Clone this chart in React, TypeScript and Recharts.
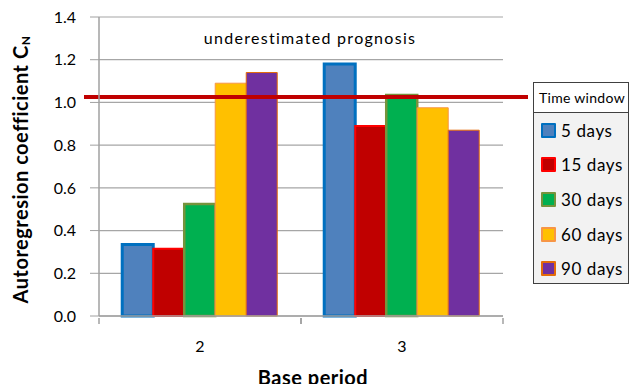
import React from 'react';
import {
  BarChart, Bar, XAxis, YAxis, CartesianGrid, ReferenceLine,
} from 'recharts';

const basePeriods = ['2', '3'];
const days5 = [0.335, 1.18];
const days15 = [0.315, 0.89];
const days30 = [0.525, 1.035];
const days60 = [1.09, 0.975];
const days90 = [1.14, 0.87];
const yTicks = [0, 0.2, 0.4, 0.6, 0.8, 1.0, 1.2, 1.4];
const threshold = 1.025;

const SERIES = [
  { key: 'd5', name: '5 days', values: days5, fill: '#4F81BD', stroke: '#0070C0', sw: 3 },
  { key: 'd15', name: '15 days', values: days15, fill: '#C00000', stroke: '#FF0000', sw: 2 },
  { key: 'd30', name: '30 days', values: days30, fill: '#00B050', stroke: '#77933C', sw: 2.5 },
  { key: 'd60', name: '60 days', values: days60, fill: '#FFC000', stroke: '#F79646', sw: 1 },
  { key: 'd90', name: '90 days', values: days90, fill: '#7030A0', stroke: '#E46C0A', sw: 1 },
];

const FONT = 'Lato, "Noto Sans", sans-serif';

const data = basePeriods.map((p, i) => {
  const row: any = { period: p };
  SERIES.forEach(s => { row[s.key] = s.values[i]; });
  return row;
});

function XTick(props: any) {
  const { x, y, payload } = props;
  const half = payload.offset || 101;
  return (
    <g>
      <line x1={x - half} x2={x - half} y1={y - 6} y2={y} stroke="#A0A0A0" strokeWidth={1.5} />
      <line x1={x + half} x2={x + half} y1={y - 6} y2={y} stroke="#A0A0A0" strokeWidth={1.5} />
      <text x={x} y={y + 28} textAnchor="middle" fontSize={16} fill="#000" fontFamily={FONT}>
        {payload.value}
      </text>
    </g>
  );
}

function YLabel(props: any) {
  const { viewBox } = props;
  const cx = 20;
  const cy = viewBox.y + viewBox.height / 2 + 3;
  return (
    <text
      x={cx} y={cy} transform={`rotate(-90, ${cx}, ${cy})`} textAnchor="middle"
      dominantBaseline="central" fontSize={20} fontWeight="bold" fill="#000" fontFamily={FONT}
      letterSpacing={0.5}
    >
      Autoregresion coefficient C<tspan fontSize={12} dy={5}>N</tspan>
    </text>
  );
}

function RedLine(props: any) {
  const { x1, x2, y1, y2 } = props;
  return <line x1={x1 - 15} x2={x2 + 25} y1={y1} y2={y2} stroke="#C00000" strokeWidth={4} />;
}

function LegendBox() {
  return (
    <div style={{
      position: 'absolute', left: 533, top: 82,
      width: 96, height: 202, border: '1px solid #404040', background: '#F2F2F2',
      fontFamily: FONT, boxSizing: 'border-box',
    }}>
      <div style={{
        height: 29, background: '#fff', borderBottom: '1px solid #404040', fontSize: 14,
        lineHeight: '29px', paddingLeft: 5, color: '#000', whiteSpace: 'nowrap', letterSpacing: 0.3,
      }}>Time window</div>
      {SERIES.map(s => (
        <div key={s.key} style={{ display: 'flex', alignItems: 'center', height: 34.6, paddingLeft: 7 }}>
          <span style={{
            width: 11, height: 11, background: s.fill, border: `2px solid ${s.stroke}`,
            borderRadius: 1, marginRight: 5, flexShrink: 0,
          }} />
          <span style={{ fontSize: 17, color: '#000', letterSpacing: 0.6, whiteSpace: 'nowrap' }}>{s.name}</span>
        </div>
      ))}
    </div>
  );
}

export default function App() {
  return (
    <div style={{ position: 'absolute', left: 0, top: 0, width: 629, height: 384, background: '#fff', overflow: 'hidden' }}>
      <BarChart
        width={629} height={384} data={data}
        margin={{ top: 17, right: 126, bottom: 0, left: 0 }}
        barCategoryGap="11.5%" barGap={0}
      >
        <CartesianGrid horizontal vertical={false} stroke="#A6A6A6" strokeWidth={1.2} />
        <XAxis
          dataKey="period" height={68} tick={<XTick />} tickLine={false}
          axisLine={{ stroke: '#A0A0A0', strokeWidth: 1.5 }}
          label={{
            value: 'Base period', position: 'insideBottom', offset: -1, dx: 12,
            fontSize: 20, fontWeight: 'bold', fill: '#000', fontFamily: FONT, letterSpacing: 0.5,
          }}
        />
        <YAxis
          width={99} domain={[0, 1.4]} ticks={yTicks} tickFormatter={(v: number) => v.toFixed(1)}
          tickSize={9} tickMargin={14} interval={0}
          tick={{ fontSize: 16, fill: '#000', fontFamily: FONT }}
          tickLine={{ stroke: '#A0A0A0' }} axisLine={{ stroke: '#A0A0A0', strokeWidth: 1.5 }}
          label={<YLabel />}
        />
        {SERIES.map(s => (
          <Bar
            key={s.key} dataKey={s.key} name={s.name} fill={s.fill}
            stroke={s.stroke} strokeWidth={s.sw} isAnimationActive={false}
          />
        ))}
        <ReferenceLine
          y={1.3} stroke="none"
          label={{
            value: 'underestimated  prognosis', position: 'center', dx: 9, fontSize: 16,
            fill: '#000', fontFamily: FONT, letterSpacing: 1.3,
          }}
        />
        <ReferenceLine y={threshold} shape={<RedLine />} />
      </BarChart>
      <LegendBox />
    </div>
  );
}
